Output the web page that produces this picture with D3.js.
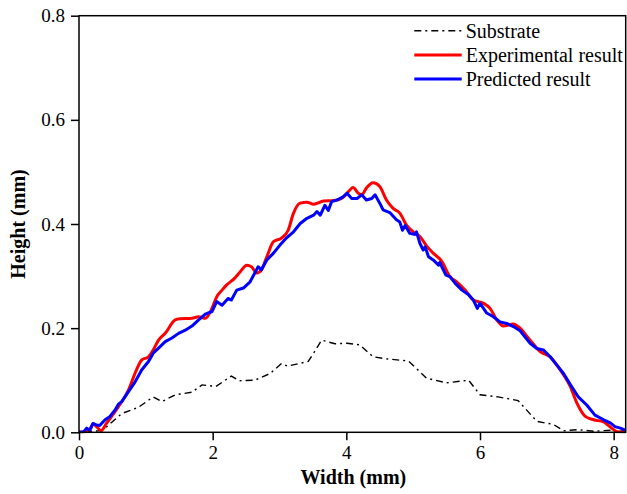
<!DOCTYPE html>
<html><head><meta charset="utf-8">
<script src="https://cdn.jsdelivr.net/npm/d3@7"></script>
<style>body{margin:0;background:#fff}svg{display:block}text{font-family:"Liberation Serif","Times New Roman",serif;fill:#000}</style>
</head><body><svg id="c" width="627" height="494"></svg>
<script>
const xTicks = [0, 2, 4, 6, 8];
const yTicks = [0.0, 0.2, 0.4, 0.6, 0.8];
const seriesNames = ["Substrate", "Experimental result", "Predicted result"];

const substrateX = [0,0.29,0.39,0.64,0.89,1.11,1.24,1.44,1.69,1.84,2.05,2.28,2.40,2.63,2.86,3.03,3.12,3.43,3.52,3.63,3.83,4.01,4.20,4.40,4.60,4.93,5.20,5.50,5.83,6.00,6.27,6.57,6.85,7.10,7.25,7.47,7.70,7.95,8.18];
const substrateY = [0,0.003,0.008,0.036,0.048,0.068,0.059,0.072,0.077,0.091,0.088,0.108,0.099,0.100,0.113,0.132,0.127,0.136,0.154,0.177,0.170,0.171,0.168,0.145,0.141,0.137,0.104,0.095,0.100,0.072,0.068,0.061,0.021,0.015,0.003,0.005,0.002,0.004,0.002];

const expX = [0,0.10,0.16,0.21,0.27,0.33,0.41,0.59,0.74,0.86,0.94,1.04,1.11,1.19,1.29,1.44,1.51,1.69,1.79,1.89,1.99,2.06,2.14,2.21,2.33,2.41,2.51,2.58,2.66,2.73,2.81,2.91,3.03,3.13,3.21,3.31,3.41,3.51,3.66,3.81,3.93,4.03,4.10,4.18,4.23,4.30,4.40,4.50,4.60,4.70,4.80,4.90,5.00,5.10,5.20,5.30,5.43,5.55,5.65,5.78,5.90,6.05,6.15,6.25,6.35,6.50,6.57,6.75,6.90,7.05,7.20,7.35,7.45,7.58,7.70,7.85,7.97,8.05,8.18];
const expY = [0,0.001,0.004,0.016,0.010,0.003,0.017,0.049,0.081,0.120,0.139,0.145,0.158,0.177,0.190,0.216,0.218,0.219,0.222,0.219,0.238,0.260,0.273,0.283,0.296,0.308,0.321,0.318,0.306,0.312,0.337,0.366,0.373,0.388,0.421,0.440,0.442,0.438,0.444,0.445,0.449,0.462,0.470,0.459,0.456,0.469,0.479,0.472,0.446,0.430,0.421,0.398,0.385,0.376,0.358,0.344,0.328,0.299,0.289,0.273,0.254,0.248,0.238,0.216,0.204,0.208,0.203,0.177,0.155,0.145,0.120,0.088,0.056,0.030,0.024,0.020,0.008,0.001,0];

const predX = [0,0.07,0.115,0.16,0.21,0.26,0.31,0.39,0.46,0.54,0.59,0.64,0.74,0.84,0.94,1.04,1.11,1.21,1.29,1.39,1.49,1.59,1.69,1.79,1.89,1.99,2.06,2.14,2.23,2.28,2.36,2.46,2.56,2.68,2.73,2.81,2.91,3.01,3.11,3.21,3.31,3.41,3.51,3.56,3.61,3.68,3.73,3.78,3.86,3.95,4.01,4.08,4.16,4.23,4.30,4.38,4.43,4.50,4.55,4.65,4.75,4.80,4.84,4.88,4.95,5.03,5.05,5.10,5.15,5.18,5.23,5.30,5.38,5.40,5.44,5.49,5.55,5.63,5.73,5.83,5.90,5.96,6.00,6.10,6.20,6.30,6.40,6.50,6.60,6.75,6.85,6.95,7.05,7.15,7.25,7.37,7.47,7.60,7.72,7.85,7.95,8.02,8.10,8.17];
const predY = [0,0.001,0.008,0.004,0.017,0.014,0.013,0.024,0.030,0.043,0.054,0.059,0.078,0.097,0.120,0.136,0.152,0.164,0.174,0.181,0.190,0.196,0.204,0.216,0.227,0.232,0.251,0.244,0.257,0.254,0.273,0.277,0.289,0.318,0.312,0.331,0.344,0.360,0.374,0.385,0.401,0.411,0.417,0.424,0.417,0.436,0.426,0.443,0.446,0.452,0.459,0.449,0.449,0.456,0.446,0.449,0.456,0.440,0.427,0.422,0.408,0.404,0.388,0.397,0.382,0.380,0.385,0.363,0.350,0.356,0.337,0.331,0.321,0.326,0.315,0.302,0.299,0.286,0.273,0.264,0.254,0.238,0.248,0.229,0.222,0.212,0.209,0.203,0.195,0.171,0.161,0.158,0.145,0.129,0.113,0.088,0.068,0.052,0.033,0.024,0.018,0.011,0.008,0.004];

const svg = d3.select("#c");
const L = 79, R = 625.7, T = 15.7, B = 432.3;
const x = d3.scaleLinear().domain([0, 8.18]).range([L, R]);
const y = d3.scaleLinear().domain([0, 0.8]).range([B, T]);

const zip = (xs, ys) => xs.map((v, i) => [v, ys[i]]);
const line = d3.line().x(d => x(d[0])).y(d => y(d[1]));
const smooth = d3.line().x(d => x(d[0])).y(d => y(d[1])).curve(d3.curveMonotoneX);

const clip = svg.append("clipPath").attr("id","cp").append("rect")
  .attr("x", L).attr("y", T).attr("width", R - L).attr("height", B - T + 1);
const g = svg.append("g").attr("clip-path","url(#cp)");

g.append("path").datum(zip(substrateX, substrateY)).attr("d", line)
  .attr("fill","none").attr("stroke","#000").attr("stroke-width",1.4).attr("stroke-dasharray","7,4,2,4");
g.append("path").datum(zip(expX, expY)).attr("d", smooth)
  .attr("fill","none").attr("stroke","#ff0000").attr("stroke-width",3).attr("stroke-linejoin","round");
g.append("path").datum(zip(predX, predY)).attr("d", line)
  .attr("fill","none").attr("stroke","#0000ff").attr("stroke-width",3).attr("stroke-linejoin","round");

// axes
const xAxis = d3.axisBottom(x).tickValues(xTicks).tickFormat(d3.format("d")).tickSizeInner(8).tickSizeOuter(0).tickPadding(5);
const yAxis = d3.axisLeft(y).tickValues(yTicks).tickFormat(d3.format(".1f")).tickSizeInner(8).tickSizeOuter(0).tickPadding(6);
const gx = svg.append("g").attr("transform", `translate(0,${B})`).call(xAxis);
const gy = svg.append("g").attr("transform", `translate(${L},0)`).call(yAxis);
[gx, gy].forEach(a => {
  a.select(".domain").remove();
  a.selectAll("line").attr("stroke","#000").attr("stroke-width",1.5);
  a.selectAll("text").attr("font-size", 19).attr("font-family","Liberation Serif");
});
svg.append("rect").attr("x", L).attr("y", T).attr("width", R - L).attr("height", B - T)
  .attr("fill","none").attr("stroke","#000").attr("stroke-width",1.5);

svg.append("text").attr("x", (L + R) / 2 + 1).attr("y", 484).attr("text-anchor","middle")
  .attr("font-size", 20).attr("font-weight","bold").text("Width (mm)");
svg.append("text").attr("transform", `translate(25,${(T + B) / 2}) rotate(-90)`).attr("text-anchor","middle")
  .attr("font-size", 20).attr("font-weight","bold").text("Height (mm)");

// legend
const leg = [
  {name: seriesNames[0], color: "#000", w: 1.4, dash: "7,4,2,4"},
  {name: seriesNames[1], color: "#ff0000", w: 3, dash: null},
  {name: seriesNames[2], color: "#0000ff", w: 3, dash: null}
];
const lg = svg.append("g");
leg.forEach((d, i) => {
  const cy = 30.7 + i * 24.2;
  lg.append("line").attr("x1", 414.3).attr("x2", 461.7).attr("y1", cy).attr("y2", cy)
    .attr("stroke", d.color).attr("stroke-width", d.w).attr("stroke-dasharray", d.dash);
  lg.append("text").attr("x", 465.7).attr("y", cy).attr("dy","0.35em").attr("font-size", 20).text(d.name);
});
</script></body></html>
